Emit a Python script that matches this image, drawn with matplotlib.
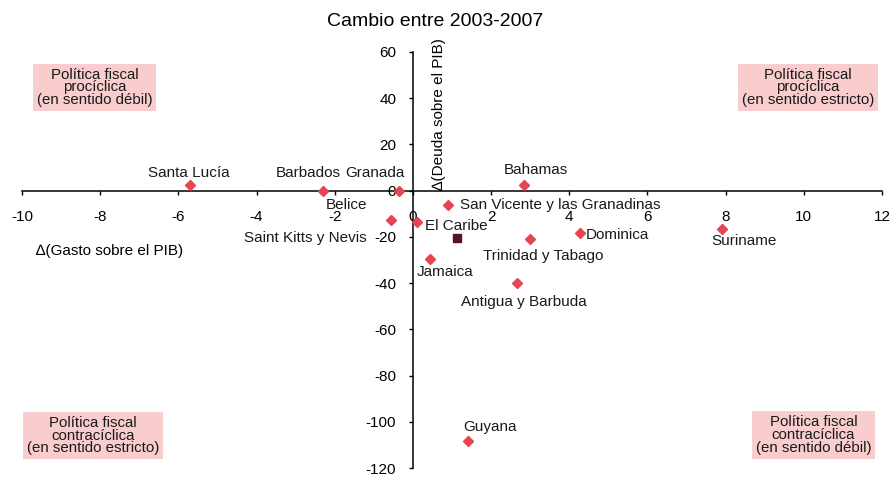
import matplotlib
matplotlib.use("Agg")
import matplotlib.pyplot as plt

plt.rcParams["font.family"] = ["Liberation Sans", "DejaVu Sans"]
plt.rcParams["axes.unicode_minus"] = False

# data
paises = ["Santa Lucía", "Barbados", "Granada", "Bahamas", "Belice",
          "Saint Kitts y Nevis", "San Vicente y las Granadinas", "Dominica",
          "Suriname", "Trinidad y Tabago", "Jamaica", "Antigua y Barbuda", "Guyana"]
gasto = [-5.7, -2.3, -0.35, 2.85, -0.55, 0.1, 0.9, 4.28, 7.9, 3.0, 0.45, 2.65, 1.4]
deuda = [2.5, 0.0, 0.0, 2.5, -12.5, -13.5, -6.3, -18.2, -16.5, -21.0, -29.5, -40.0, -108.5]
caribe_gasto = [1.14]
caribe_deuda = [-20.6]

xticks = list(range(-10, 13, 2))
yticks = list(range(-120, 61, 20))

# label offsets (pixels, label centre relative to point)
offsets = {
    "Santa Lucía": (-1, 12, "center"),
    "Barbados": (-15, 18, "center"),
    "Granada": (-24, 18, "center"),
    "Bahamas": (12, 15, "center"),
    "Belice": (-45, 15, "center"),
    "Saint Kitts y Nevis": (-112, -16, "center"),
    "San Vicente y las Granadinas": (12, 0, "left"),
    "Dominica": (6, -2, "left"),
    "Suriname": (22, -12, "center"),
    "Trinidad y Tabago": (13, -17, "center"),
    "Jamaica": (15, -13, "center"),
    "Antigua y Barbuda": (7, -19, "center"),
    "Guyana": (22, 14, "center"),
}

W, H = 895, 478
fig = plt.figure(figsize=(W / 100, H / 100), dpi=100)
ax = fig.add_axes([22 / W, 10 / H, 860 / W, 416 / H])

ax.plot(gasto, deuda, "D", color="#E64553", ms=4.8, ls="none", zorder=3)
ax.plot(caribe_gasto, caribe_deuda, "s", color="#5B0F2E", ms=6.3, ls="none", zorder=3)

for name, x, y in zip(paises, gasto, deuda):
    dx, dy, ha = offsets[name]
    ax.annotate(name, (x, y), xytext=(dx, dy), textcoords="offset pixels",
                ha=ha, va="center", fontsize=11, color="#1a1a1a")
ax.annotate("El Caribe", (caribe_gasto[0], caribe_deuda[0]), xytext=(-1, 12),
            textcoords="offset pixels", ha="center", va="center", fontsize=11,
            color="#1a1a1a")

ax.set_xlim(-10, 12)
ax.set_ylim(-120, 60)
ax.set_xticks(xticks)
ax.set_yticks(yticks)
ax.spines["left"].set_position(("data", 0))
ax.spines["bottom"].set_position(("data", 0))
ax.spines["top"].set_visible(False)
ax.spines["right"].set_visible(False)
for s in ("left", "bottom"):
    ax.spines[s].set_linewidth(1.1)
ax.tick_params(axis="x", direction="out", length=3, width=1, pad=11, labelsize=11)
ax.tick_params(axis="y", direction="out", length=3, width=1, pad=9, labelsize=11)
ax.patch.set_visible(False)

fig.text(435 / W, 1 - 21 / H, "Cambio entre 2003-2007", ha="center", va="center", fontsize=14)
fig.text(109.5 / W, 1 - 251 / H, "∆(Gasto sobre el PIB)", ha="center", va="center", fontsize=11)
fig.text(439 / W, 1 - 114.5 / H, "∆(Deuda sobre el PIB)", ha="center", va="center",
         rotation=90, fontsize=11)

box = dict(boxstyle="square,pad=0.25", fc="#F9CDCD", ec="none")
cajas = [
    ((94.5, 87.5), "Política fiscal\nprocíclica\n(en sentido débil)"),
    ((808, 87.5), "Política fiscal\nprocíclica\n(en sentido estricto)"),
    ((93, 435.5), "Política fiscal\ncontracíclica\n(en sentido estricto)"),
    ((813.5, 435), "Política fiscal\ncontracíclica\n(en sentido débil)"),
]
for (px, py), txt in cajas:
    fig.text(px / W, 1 - py / H, txt, ha="center", va="center", fontsize=10.8,
             linespacing=0.9, bbox=box, color="#1a1a1a")

fig.savefig("out.png", dpi=100)
